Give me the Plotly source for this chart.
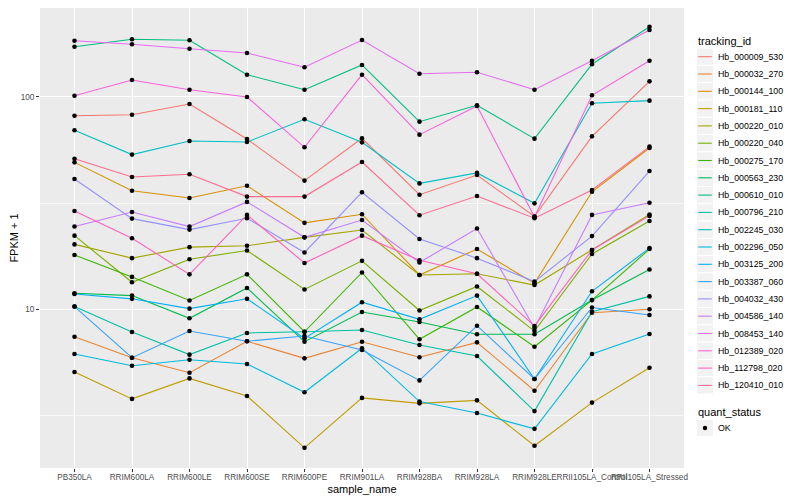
import plotly.graph_objects as go

samples = ["PB350LA", "RRIM600LA", "RRIM600LE", "RRIM600SE", "RRIM600PE", "RRIM901LA",
           "RRIM928BA", "RRIM928LA", "RRIM928LE", "RRII105LA_Control", "RRII105LA_Stressed"]

hb_000009_530 = [81.4, 82.3, 92.4, 63.2, 40.3, 63.7, 34.6, 42.8, 27.3, 65.1, 118.1]
hb_000032_270 = [7.43, 5.92, 5.03, 7.07, 5.88, 7.04, 5.95, 6.99, 4.14, 9.64, 10.0]
hb_000144_100 = [49.1, 36.1, 33.4, 38.1, 25.5, 28.0, 14.5, 19.2, 13.25, 35.7, 57.4]
hb_000181_110 = [5.07, 3.79, 4.73, 3.91, 2.23, 3.83, 3.61, 3.73, 2.28, 3.64, 5.31]
hb_000220_010 = [20.2, 17.4, 19.6, 19.9, 21.8, 23.6, 14.5, 14.7, 13.0, 19.0, 27.9]
hb_000220_040 = [22.2, 13.4, 17.2, 18.9, 12.4, 16.9, 9.87, 12.8, 7.9, 18.2, 26.0]
hb_000275_170 = [18.0, 14.2, 11.0, 14.6, 7.84, 14.9, 7.23, 10.25, 6.67, 11.05, 19.2]
hb_000563_230 = [11.9, 11.6, 9.07, 12.6, 7.04, 9.71, 8.71, 7.63, 7.63, 11.05, 15.4]
hb_000610_010 = [171.9, 186.2, 184.2, 126.9, 107.9, 141.0, 76.3, 91.1, 63.5, 142.1, 213.4]
hb_000796_210 = [10.3, 7.82, 6.12, 7.74, 7.84, 7.99, 6.79, 6.03, 3.32, 9.74, 11.5]
hb_002245_030 = [69.5, 53.4, 61.9, 61.2, 78.3, 61.0, 39.1, 43.8, 31.5, 93.1, 95.8]
hb_002296_050 = [6.16, 5.43, 5.79, 5.53, 4.07, 6.56, 3.68, 3.25, 2.74, 6.16, 7.65]
hb_003125_200 = [11.8, 11.2, 10.07, 11.2, 7.3, 10.8, 8.97, 11.6, 4.70, 12.15, 19.4]
hb_003387_060 = [10.3, 5.92, 7.9, 7.07, 7.49, 6.44, 4.63, 8.37, 4.70, 10.2, 9.40]
hb_004032_430 = [41.0, 26.7, 23.7, 26.8, 18.5, 35.5, 21.4, 17.4, 13.5, 22.1, 44.7]
hb_004586_140 = [24.5, 28.7, 24.5, 32.0, 21.8, 26.3, 16.6, 24.0, 8.17, 27.8, 31.7]
hb_008453_140 = [183.4, 176.4, 168.2, 160.5, 137.5, 184.8, 128.3, 130.3, 107.9, 147.7, 205.9]
hb_012389_020 = [101.1, 119.8, 107.9, 99.7, 57.8, 126.9, 66.3, 90.4, 27.2, 101.5, 147.7]
hb_112798_020 = [29.0, 21.6, 14.6, 27.8, 16.5, 22.2, 17.0, 14.7, 8.35, 19.0, 27.5]
hb_120410_010 = [51.1, 41.9, 43.2, 33.9, 33.9, 49.3, 27.7, 34.1, 26.8, 36.4, 58.2]

tracking_ids = ["Hb_000009_530", "Hb_000032_270", "Hb_000144_100", "Hb_000181_110",
                "Hb_000220_010", "Hb_000220_040", "Hb_000275_170", "Hb_000563_230",
                "Hb_000610_010", "Hb_000796_210", "Hb_002245_030", "Hb_002296_050",
                "Hb_003125_200", "Hb_003387_060", "Hb_004032_430", "Hb_004586_140",
                "Hb_008453_140", "Hb_012389_020", "Hb_112798_020", "Hb_120410_010"]
series_values = [hb_000009_530, hb_000032_270, hb_000144_100, hb_000181_110,
                 hb_000220_010, hb_000220_040, hb_000275_170, hb_000563_230,
                 hb_000610_010, hb_000796_210, hb_002245_030, hb_002296_050,
                 hb_003125_200, hb_003387_060, hb_004032_430, hb_004586_140,
                 hb_008453_140, hb_012389_020, hb_112798_020, hb_120410_010]
quant_status = ["OK"]
colors = ["#F8766D", "#EA8331", "#D89000", "#C09B00", "#A3A500", "#7CAE00", "#39B600",
          "#00BB4E", "#00BF7D", "#00C1A3", "#00BFC4", "#00BAE0", "#00B0F6", "#35A2FF",
          "#9590FF", "#C77CFF", "#E76BF3", "#FA62DB", "#FF62BC", "#FF6C91"]

FONT = "Liberation Sans, Arial, sans-serif"
W, H = 800, 500
OFF = 8  # page body offset of the figure div
ML, MR, MT, MB = 32, 124, 0, 40
PW, PH = W - ML - MR, H - MT - MB


def px(x):
    return (x - OFF - ML) / PW


def py(y):
    return (H - MB - (y - OFF)) / PH


fig = go.Figure()

for name, vals, col in zip(tracking_ids, series_values, colors):
    fig.add_trace(go.Scatter(
        x=samples, y=vals, mode="lines", name=name,
        line=dict(color=col, width=1.1), showlegend=False, hoverinfo="skip"))

all_x, all_y = [], []
for vals in series_values:
    all_x.extend(samples)
    all_y.extend(vals)
fig.add_trace(go.Scatter(
    x=all_x, y=all_y, mode="markers", name="OK",
    marker=dict(color="black", size=4.6, symbol="circle"), showlegend=False))

# ---- manual ggplot-style legends ----
shapes, annotations = [], []
KEY_L, KEY_R = 696.5, 713.5
KEY_H = 17.3
first_y = 56.7
annotations.append(dict(text="tracking_id", x=px(696), y=py(40.7), xref="paper", yref="paper",
                        xanchor="left", yanchor="middle", showarrow=False,
                        font=dict(size=11, family=FONT, color="black")))
for i, (name, col) in enumerate(zip(tracking_ids, colors)):
    cy = first_y + KEY_H * i
    shapes.append(dict(type="rect", xref="paper", yref="paper",
                       x0=px(KEY_L), x1=px(KEY_R), y0=py(cy - KEY_H / 2), y1=py(cy + KEY_H / 2),
                       fillcolor="#F2F2F2", line=dict(color="white", width=1), layer="above"))
    shapes.append(dict(type="line", xref="paper", yref="paper",
                       x0=px(KEY_L + 1.7), x1=px(KEY_R - 1.7), y0=py(cy), y1=py(cy),
                       line=dict(color=col, width=1.1), layer="above"))
    annotations.append(dict(text=name, x=px(716), y=py(cy), xref="paper", yref="paper",
                            xanchor="left", yanchor="middle", showarrow=False,
                            font=dict(size=8.8, family=FONT, color="black")))

qs_title_y = 412
annotations.append(dict(text="quant_status", x=px(696), y=py(qs_title_y), xref="paper",
                        yref="paper", xanchor="left", yanchor="middle", showarrow=False,
                        font=dict(size=11, family=FONT, color="black")))
for j, status in enumerate(quant_status):
    cy = qs_title_y + 16 + KEY_H * j
    shapes.append(dict(type="rect", xref="paper", yref="paper",
                       x0=px(KEY_L), x1=px(KEY_R), y0=py(cy - KEY_H / 2), y1=py(cy + KEY_H / 2),
                       fillcolor="#F2F2F2", line=dict(color="white", width=1), layer="above"))
    cx = (KEY_L + KEY_R) / 2
    shapes.append(dict(type="circle", xref="paper", yref="paper",
                       x0=px(cx - 2.2), x1=px(cx + 2.2), y0=py(cy - 2.2), y1=py(cy + 2.2),
                       fillcolor="black", line=dict(color="black", width=0), layer="above"))
    annotations.append(dict(text=status, x=px(716), y=py(cy), xref="paper", yref="paper",
                            xanchor="left", yanchor="middle", showarrow=False,
                            font=dict(size=8.8, family=FONT, color="black")))

fig.update_layout(
    width=W, height=H,
    margin=dict(l=ML, r=MR, t=MT, b=MB, pad=0),
    paper_bgcolor="white", plot_bgcolor="#EBEBEB",
    font=dict(family=FONT, color="black"),
    showlegend=False,
    shapes=shapes, annotations=annotations,
    xaxis=dict(
        type="category", categoryorder="array", categoryarray=samples,
        range=[-0.6, 10.6], showgrid=True, gridcolor="white", gridwidth=1.1,
        zeroline=False, ticks="outside", ticklen=3, tickcolor="#333333",
        tickangle=0, tickfont=dict(size=8.2, color="#4D4D4D", family=FONT),
        ticklabelstandoff=-2,
        title=dict(text="sample_name", font=dict(size=11, color="black"), standoff=4),
        showline=False, automargin=False),
    yaxis=dict(
        type="log", range=[0.2535, 2.4172],
        tickvals=[10, 100], ticktext=["10", "100"],
        showgrid=True, gridcolor="white", gridwidth=1.1,
        minor=dict(tickvals=[10 ** 0.5, 10 ** 1.5, 10 ** 2.5], showgrid=True,
                   gridcolor="#F7F7F7", gridwidth=0.6, ticks=""),
        zeroline=False, ticks="outside", ticklen=3, tickcolor="#333333",
        tickfont=dict(size=8.2, color="#4D4D4D", family=FONT),
        title=dict(text="FPKM + 1", font=dict(size=11, color="black"), standoff=4),
        showline=False, automargin=False),
)

fig.write_html("out.html")
